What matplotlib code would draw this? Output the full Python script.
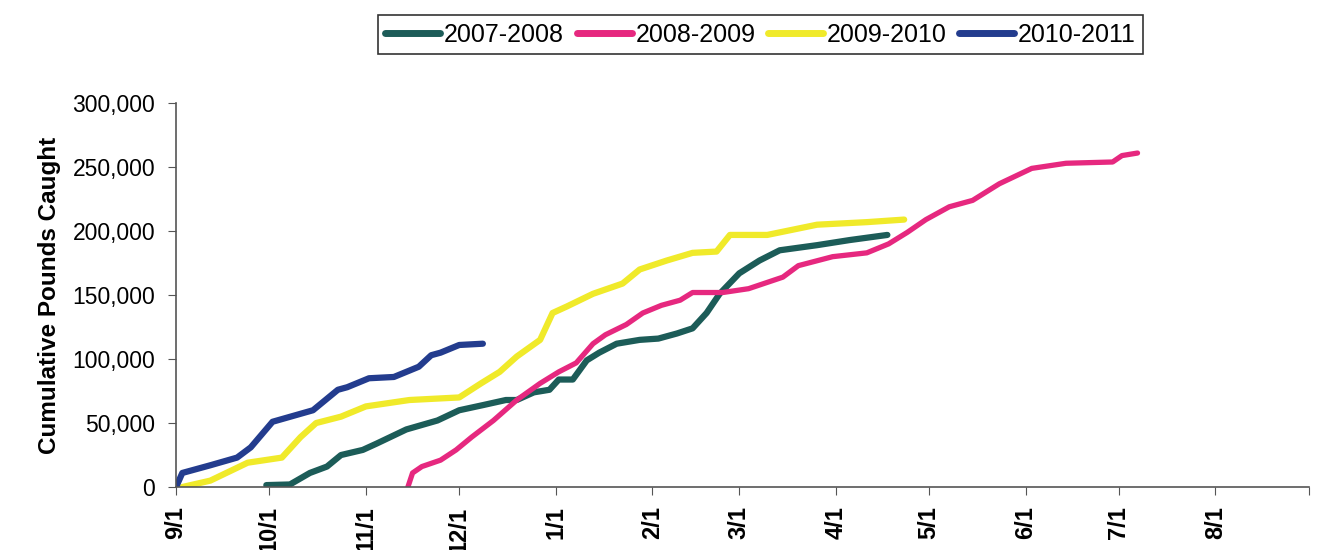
import matplotlib
matplotlib.use('Agg')
import matplotlib.pyplot as plt
from matplotlib.ticker import FuncFormatter

plt.rcParams['font.family'] = ['Liberation Sans', 'DejaVu Sans']

# days since 9/1, cumulative pounds (thousands)
# 2007-2008
d_0708 = [29, 36.6, 43, 48.5, 53, 60, 64.5, 74, 84, 91, 98.6, 106, 109.5, 115, 120, 123, 127.5,
          132, 136, 141.6, 149, 155, 161, 166, 170.5, 174.7, 181, 187.5, 194, 206, 216.5, 228.6]
v_0708 = [1.5, 2, 11, 16, 25, 29, 34, 45, 52, 60, 64, 68, 68, 74, 76, 84, 84,
          99, 105, 112, 115, 116, 120, 124, 136, 151, 167, 177, 185, 189, 193, 197]
# 2008-2009
d_0809 = [74.5, 76, 79, 85, 90, 95, 102, 109.5, 117, 123, 128.6, 134, 138, 144.7, 150, 156, 162,
          166, 175.7, 184, 195, 200, 211, 222, 229, 235, 241, 248.5, 256, 264.6, 275, 286, 301,
          304, 309]
v_0809 = [0, 11, 16, 21, 29, 39, 52, 68, 81, 90, 97, 112, 119, 127, 136, 142, 146,
          152, 152, 155, 164, 173, 180, 183, 190, 199, 209, 219, 224, 237, 249, 253, 254,
          259, 261]
# 2009-2010
d_0910 = [2, 11, 23, 34, 40, 45, 53, 61, 75, 91, 98, 104, 109.5, 117, 121, 125.5, 134, 143.5,
          149, 157.7, 166, 173.7, 178, 190, 206, 222, 234]
v_0910 = [0, 5, 19, 23, 39, 50, 55, 63, 68, 70, 81, 90, 102, 115, 136, 141, 151, 159,
          170, 177, 183, 184, 197, 197, 205, 207, 209]
# 2010-2011
d_1011 = [0, 2, 11, 19.6, 24, 31, 44, 52, 55, 62, 70, 74, 78, 82, 85, 91, 98.6]
v_1011 = [0, 11, 17, 23, 31, 51, 60, 76, 78, 85, 86, 90, 94, 103, 105, 111, 112]

month_days = [0, 30, 61, 91, 122, 153, 181, 212, 242, 273, 303, 334]
month_labels = ['9/1', '10/1', '11/1', '12/1', '1/1', '2/1', '3/1', '4/1', '5/1', '6/1', '7/1', '8/1']

fig = plt.figure(figsize=(13.34, 5.5), dpi=100)
ax = fig.add_axes([0.132, 0.1145, 0.849, 0.698])

ax.plot(d_0708, [v * 1000 for v in v_0708], color='#1c5c58', lw=4.5, label='2007-2008', solid_capstyle='round')
ax.plot(d_0809, [v * 1000 for v in v_0809], color='#e6287f', lw=3.8, label='2008-2009', solid_capstyle='round')
ax.plot(d_0910, [v * 1000 for v in v_0910], color='#f0ea2a', lw=4.5, label='2009-2010', solid_capstyle='round')
ax.plot(d_1011, [v * 1000 for v in v_1011], color='#233c8e', lw=4.5, label='2010-2011', solid_capstyle='round')

ax.set_xlim(0, 364)
ax.set_ylim(0, 300000)
ax.set_xticks(month_days + [364])
ax.set_xticklabels(month_labels + [''], rotation=90, fontsize=17, fontweight='bold')
ax.set_yticks(range(0, 300001, 50000))
ax.yaxis.set_major_formatter(FuncFormatter(lambda v, p: '{:,.0f}'.format(v)))
ax.tick_params(axis='y', labelsize=16.5, length=6, color='#555555', pad=9)
ax.tick_params(axis='x', length=6, color='#555555', pad=8)
ax.set_ylabel('Cumulative Pounds Caught', fontsize=17.5, fontweight='bold', labelpad=8)

for s in ['top', 'right']:
    ax.spines[s].set_visible(False)
for s in ['left', 'bottom']:
    ax.spines[s].set_color('#555555')
    ax.spines[s].set_linewidth(1.2)

leg = fig.legend(loc='upper center', bbox_to_anchor=(0.57, 0.995), ncol=4, fontsize=18,
                 frameon=True, fancybox=False, handlelength=2.2, handletextpad=0.15,
                 columnspacing=0.5, borderpad=0.3)
leg.get_frame().set_edgecolor('black')
leg.get_frame().set_linewidth(1.2)
for h in leg.get_lines():
    h.set_linewidth(5)

fig.savefig('out.png', dpi=100)
